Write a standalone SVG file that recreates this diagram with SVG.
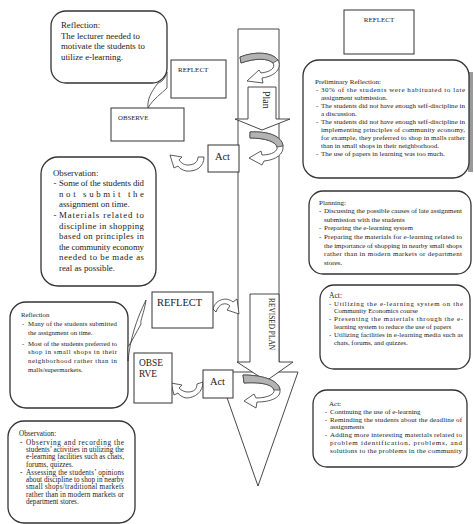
<svg xmlns="http://www.w3.org/2000/svg" width="474" height="524" viewBox="0 0 474 524">
<style>
.t{font-family:"Liberation Serif","Times New Roman",serif;fill:#1a1a1a}
.f9{font-size:8.8px}
.f7{font-size:7px}
.f68{font-size:6.8px}
.f72{font-size:7.2px}
.box{fill:#fff;stroke:#333;stroke-width:1}
.bal{fill:#fff;stroke:#333;stroke-width:1.3}
.ln{fill:#fff;stroke:#333;stroke-width:0.9}
.ca{fill:#fff;stroke:#333;stroke-width:0.8}
.gr{fill:#b3b3b3;stroke:#444;stroke-width:0.8}
</style>
<rect width="474" height="524" fill="#fff"/>

<g id="connectors">
  <!-- big triangle head -->
  <polygon class="ln" points="218,372 298,372 258,486"/>
  <!-- outer shaft -->
  <path d="M238,362 V29 H279 V362" fill="none" stroke="#333" stroke-width="0.9"/>
  <!-- Plan arrow -->
  <path class="ln" d="M248,87 H276 V119 H290 L262,130 L235,119 H248 Z"/>
  <!-- Revised plan arrow -->
  <path class="ln" d="M250,294 H279 V362 H293 L266,381 L237,362 H250 Z"/>
  <!-- curved arrow 1 -->
  <path class="ca" d="M240,57 C255,51 272,52 278,60 C282,68 276,76 262,78 L263,83 L247,81 L259,70 L261,73 C270,72 276,68 273,63 C268,58 255,58 241,63 Z"/>
  <path class="gr" d="M240,57 C255,51 272,52 278,60 L273,63 C268,58 255,58 241,63 Z"/>
  <!-- curved arrow 2 -->
  <path class="ca" d="M250,132 C268,131 282,136 283,146 C284,154 276,160 264,161 L262,165 L249,158 L261,151 L262,155 C272,155 278,151 277,147 C276,142 266,138 250,138 Z"/>
  <path class="gr" d="M250,132 C268,131 282,136 283,146 L277,147 C276,142 266,138 250,138 Z"/>
  <!-- curved arrow 3 -->
  <path class="ca" d="M243,375 C262,375 279,380 280,390 C281,398 270,402 257,402 L256,408 L244,401 L254,394 L256,398 C268,398 275,394 274,390 C272,384 260,382 244,383 Z"/>
  <path class="gr" d="M243,375 C262,375 279,380 280,390 L274,390 C272,384 260,382 244,383 Z"/>
  <!-- small U arrow near upper Act -->
  <path class="ca" d="M204,157 C204,167 196,172 186,171 C182,170 179,168 178,166 L174,168 L170,155 L182,157 L179,160 C182,164 185,165 188,165 C194,165 198,162 198,157 Z"/>
  <!-- small U arrow near lower Act -->
  <path class="ca" d="M203,382 C203,392 195,398 186,398 C182,397 179,395 178,393 L174,395 L171,383 L182,385 L179,388 C182,391 185,392 188,392 C194,392 197,389 197,384 Z"/>
  <!-- arc arrow from shaft to lower REFLECT -->
  <path class="ca" d="M213,309 C215,300 226,296 233,302 L237,299 L239,314 L227,310 L230,306 C226,302 219,303 216,312 Z"/>
</g>

<g id="reflection-top">
  <rect class="bal" x="51" y="11" width="116" height="72" rx="15"/>
  <path class="ca" d="M158,83 C151,92 147,100 148,108 C153,99 162,93 167,88 L167,72 C165,79 162,82 158,83 Z"/>
  <text class="t f9" x="61" y="28">Reflection:</text>
  <text class="t f9" x="61" y="38.5">The lecturer needed to</text>
  <text class="t f9" x="61" y="49">motivate the students to</text>
  <text class="t f9" x="61" y="59.5">utilize e-learning.</text>
</g>

<g id="reflect-1">
  <rect class="box" x="171" y="60" width="55" height="38"/>
  <text class="t" x="178" y="71.5" font-size="7">REFLECT</text>
</g>

<g id="observe-1">
  <rect class="box" x="111" y="108" width="73" height="33"/>
  <text class="t" x="118" y="120" font-size="6.8">OBSERVE</text>
</g>

<g id="reflect-top-right">
  <rect class="box" x="344" y="10" width="70" height="44"/>
  <text class="t" x="379" y="21.5" font-size="7" text-anchor="middle">REFLECT</text>
</g>

<g id="act-1">
  <rect class="box" x="208" y="145" width="31" height="27"/>
  <text class="t" x="215" y="160" font-size="10.4">Act</text>
</g>

<g id="plan-label">
  <text class="t" transform="translate(263,91) rotate(90)" font-size="10">Plan</text>
</g>

<g id="revised-plan-label">
  <text class="t" transform="translate(268.5,298) rotate(90)" font-size="7.3" textLength="52" lengthAdjust="spacingAndGlyphs">REVISED PLAN</text>
</g>

<g id="preliminary-reflection">
  <rect x="468" y="72" width="5" height="100" fill="#9a9a9a"/>
  <rect class="bal" x="303" y="60" width="166" height="118" rx="16"/>
  <text class="t f7" x="315" y="83.5">Preliminary Reflection:</text>
  <text class="t f7" x="316" y="91.5">-</text>
  <text class="t f7" x="321" y="91.5" textLength="144" lengthAdjust="spacing">30% of the students were habituated to late</text>
  <text class="t f7" x="321" y="99.5">assignment submission.</text>
  <text class="t f7" x="316" y="107.5">-</text>
  <text class="t f7" x="321" y="107.5" textLength="144" lengthAdjust="spacing">The students did not have enough self-discipline in</text>
  <text class="t f7" x="321" y="115.5">a discussion.</text>
  <text class="t f7" x="316" y="123.5">-</text>
  <text class="t f7" x="321" y="123.5" textLength="144" lengthAdjust="spacing">The students did not have enough self-discipline in</text>
  <text class="t f7" x="321" y="131.5" textLength="144" lengthAdjust="spacing">implementing principles of community economy,</text>
  <text class="t f7" x="321" y="139.5" textLength="144" lengthAdjust="spacing">for example, they preferred to shop in malls rather</text>
  <text class="t f7" x="321" y="147.5">than in small shops in their neighborhood.</text>
  <text class="t f7" x="316" y="155.5">-</text>
  <text class="t f7" x="321" y="155.5">The use of papers in learning was too much.</text>
</g>

<g id="observation-1">
  <rect class="bal" x="41" y="157" width="115" height="129" rx="17"/>
  <text class="t f9" x="53" y="175.5">Observation:</text>
  <text class="t f9" x="53.5" y="186.1">-</text>
  <text class="t f9" x="59" y="186.1" textLength="85" lengthAdjust="spacing">Some of the students did</text>
  <text class="t f9" x="59" y="196.7" textLength="85" lengthAdjust="spacing">not submit the</text>
  <text class="t f9" x="59" y="207.3">assignment on time.</text>
  <text class="t f9" x="53.5" y="217.9">-</text>
  <text class="t f9" x="59" y="217.9" textLength="85" lengthAdjust="spacing">Materials related to</text>
  <text class="t f9" x="59" y="228.5" textLength="85" lengthAdjust="spacing">discipline in shopping</text>
  <text class="t f9" x="59" y="239.1" textLength="85" lengthAdjust="spacing">based on principles in</text>
  <text class="t f9" x="59" y="249.7" textLength="85" lengthAdjust="spacing">the community economy</text>
  <text class="t f9" x="59" y="260.3" textLength="85" lengthAdjust="spacing">needed to be made as</text>
  <text class="t f9" x="59" y="270.9">real as possible.</text>
</g>

<g id="planning">
  <rect class="bal" x="309" y="191" width="162" height="83" rx="14"/>
  <text class="t f7" x="319" y="204.5">Planning:</text>
  <text class="t f7" x="319" y="213.2">-</text>
  <text class="t f7" x="324" y="213.2" textLength="138" lengthAdjust="spacing">Discussing the possible causes of late assignment</text>
  <text class="t f7" x="324" y="221.8">submission with the students</text>
  <text class="t f7" x="319" y="230.4">-</text>
  <text class="t f7" x="324" y="230.4">Preparing the e-learning system</text>
  <text class="t f7" x="319" y="239">-</text>
  <text class="t f7" x="324" y="239" textLength="138" lengthAdjust="spacing">Preparing the materials for e-learning related to</text>
  <text class="t f7" x="324" y="247.6" textLength="138" lengthAdjust="spacing">the importance of shopping in nearby small shops</text>
  <text class="t f7" x="324" y="256.2" textLength="138" lengthAdjust="spacing">rather than in modern markets or department</text>
  <text class="t f7" x="324" y="264.8">stores.</text>
</g>

<g id="reflect-2">
  <rect class="box" x="152" y="292" width="61" height="36"/>
  <text class="t" x="157" y="305.5" font-size="10.4">REFLECT</text>
</g>

<g id="act-right">
  <rect class="bal" x="320" y="285" width="150" height="84" rx="14"/>
  <text class="t" x="329" y="298" font-size="7.6">Act:</text>
  <text class="t f68" x="329" y="305.6">-</text>
  <text class="t f68" x="334" y="305.6" textLength="129" lengthAdjust="spacing">Utilizing the e-learning system on the</text>
  <text class="t f68" x="334" y="313.3">Community Economics course</text>
  <text class="t f68" x="329" y="321.3">-</text>
  <text class="t f68" x="334" y="321.3" textLength="129" lengthAdjust="spacing">Presenting the materials through the e-</text>
  <text class="t f68" x="334" y="329">learning system to reduce the use of papers</text>
  <text class="t f68" x="329" y="336.6">-</text>
  <text class="t f68" x="334" y="336.6" textLength="129" lengthAdjust="spacing">Utilizing facilities in e-learning media such as</text>
  <text class="t f68" x="334" y="344.6">chats, forums, and quizzes.</text>
</g>

<g id="reflection-2">
  <rect class="bal" x="10" y="302" width="118" height="106" rx="16"/>
  <path class="ca" d="M128,361 C130,340 136,320 146,300 C144,314 140,320 141,324 C136,333 132,341 128,347 Z"/>
  <text class="t f68" x="21" y="316.5">Reflection</text>
  <text class="t f68" x="22" y="325.5">-</text>
  <text class="t f68" x="28" y="325.5" textLength="89" lengthAdjust="spacing">Many of the students submitted</text>
  <text class="t f68" x="28" y="334.5">the assignment on time.</text>
  <text class="t f68" x="22" y="345.5">-</text>
  <text class="t f68" x="28" y="345.5" textLength="89" lengthAdjust="spacing">Most of the students preferred to</text>
  <text class="t f68" x="28" y="353.8" textLength="89" lengthAdjust="spacing">shop in small shops in their</text>
  <text class="t f68" x="28" y="362.5" textLength="89" lengthAdjust="spacing">neighborhood rather than in</text>
  <text class="t f68" x="28" y="371.5">malls/supermarkets.</text>
</g>

<g id="observe-2">
  <rect class="box" x="134" y="353" width="38" height="50"/>
  <text class="t" x="139" y="366" font-size="9.4">OBSE</text>
  <text class="t" x="139" y="376.5" font-size="9.4">RVE</text>
</g>

<g id="act-2">
  <rect class="box" x="203" y="370" width="30" height="28"/>
  <text class="t" x="210" y="384.5" font-size="10.4">Act</text>
</g>

<g id="act-bottom-right">
  <rect class="bal" x="313" y="390" width="154" height="77" rx="14"/>
  <text class="t f7" x="329" y="405.5">Act:</text>
  <text class="t f7" x="325" y="414">-</text>
  <text class="t f7" x="330" y="414">Continuing the use of e-learning</text>
  <text class="t f7" x="325" y="421.7">-</text>
  <text class="t f7" x="330" y="421.7" textLength="132" lengthAdjust="spacing">Reminding the students about the deadline of</text>
  <text class="t f7" x="330" y="429.4">assignments</text>
  <text class="t f7" x="325" y="437.3">-</text>
  <text class="t f7" x="330" y="437.3" textLength="132" lengthAdjust="spacing">Adding more interesting materials related to</text>
  <text class="t f7" x="330" y="445" textLength="132" lengthAdjust="spacing">problem identification, problems, and</text>
  <text class="t f7" x="330" y="453" textLength="132" lengthAdjust="spacing">solutions to the problems in the community</text>
</g>

<g id="observation-2">
  <rect class="bal" x="8" y="421" width="127" height="102" rx="16"/>
  <text class="t f72" x="19" y="435.5">Observation:</text>
  <text class="t f72" x="20" y="444.5">-</text>
  <text class="t f72" x="26" y="444.5" textLength="98" lengthAdjust="spacing">Observing and recording the</text>
  <text class="t f72" x="26" y="451.8" textLength="98" lengthAdjust="spacing">students’ activities in utilizing the</text>
  <text class="t f72" x="26" y="459.3" textLength="98" lengthAdjust="spacing">e-learning facilities such as chats,</text>
  <text class="t f72" x="26" y="466.8">forums, quizzes.</text>
  <text class="t f72" x="20" y="474.5">-</text>
  <text class="t f72" x="26" y="474.5" textLength="98" lengthAdjust="spacing">Assessing the students’ opinions</text>
  <text class="t f72" x="26" y="481.8" textLength="98" lengthAdjust="spacing">about discipline to shop in nearby</text>
  <text class="t f72" x="26" y="489.3" textLength="98" lengthAdjust="spacing">small shops/traditional markets</text>
  <text class="t f72" x="26" y="496.8" textLength="98" lengthAdjust="spacing">rather than in modern markets or</text>
  <text class="t f72" x="26" y="504.3">department stores.</text>
</g>
</svg>
